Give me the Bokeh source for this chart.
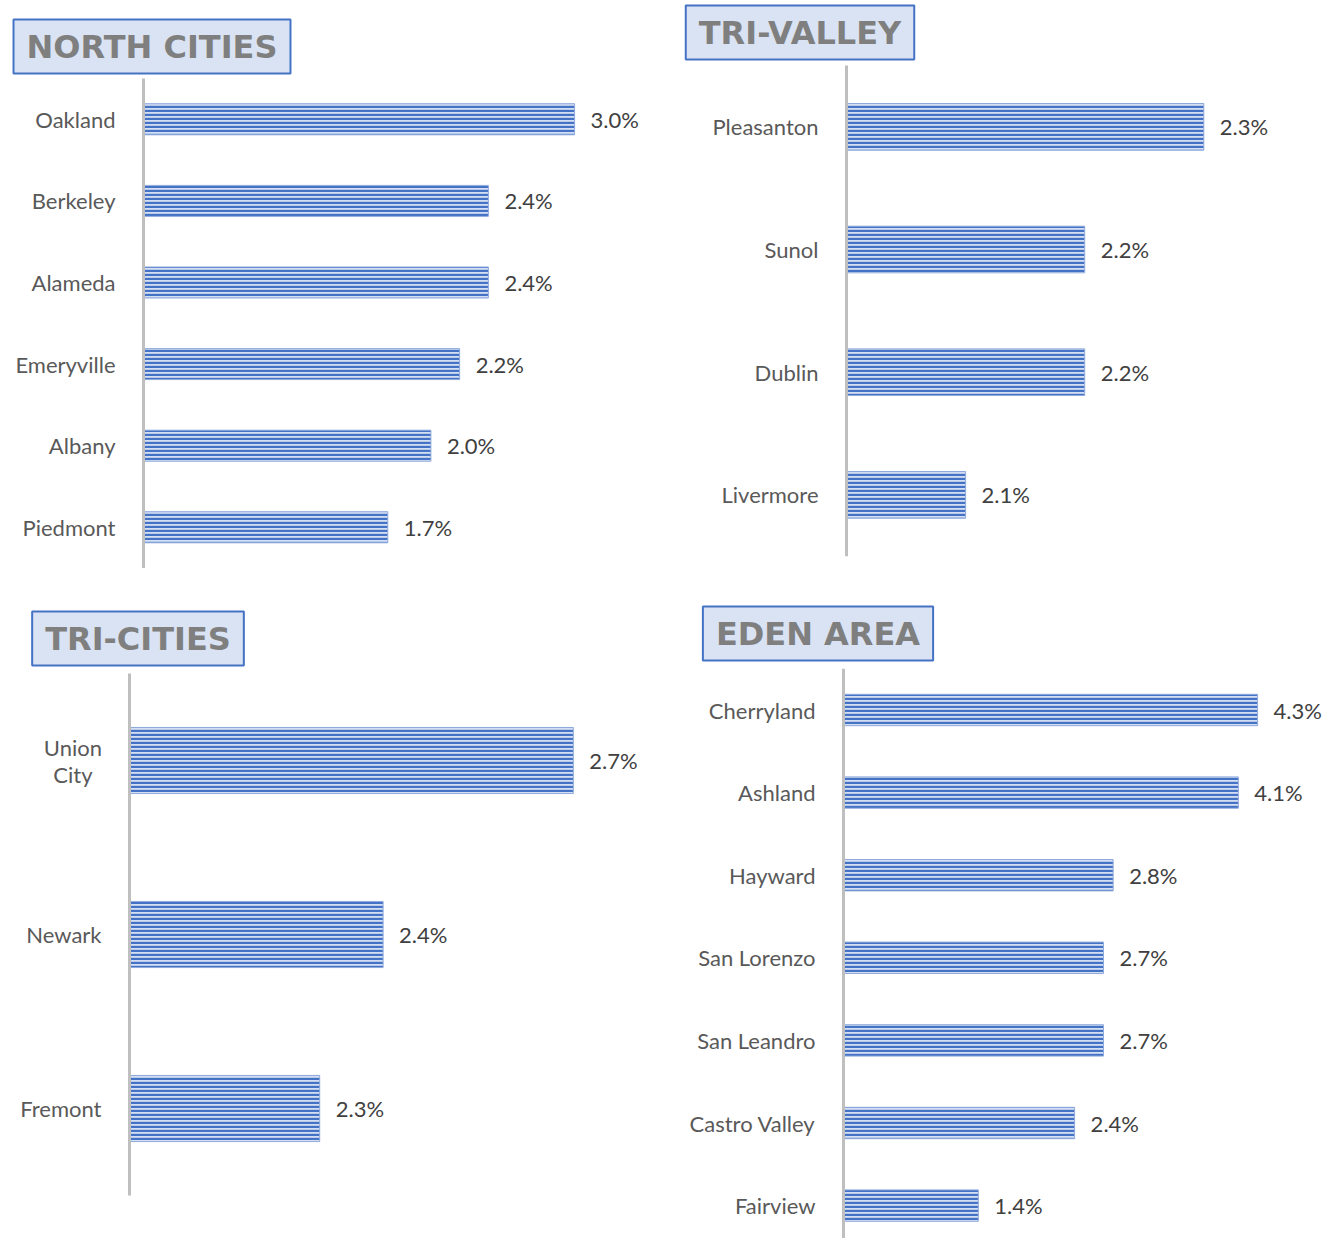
from bokeh.plotting import figure
from bokeh.models import ColumnDataSource, Range1d, Label
from bokeh.layouts import column, row
from bokeh.core.properties import value
from bokeh.embed import file_html
from bokeh.resources import INLINE

# ---------------- data ----------------
north_title = "NORTH CITIES"
north_cities = ["Oakland", "Berkeley", "Alameda", "Emeryville", "Albany", "Piedmont"]
north_values = [3.0, 2.4, 2.4, 2.2, 2.0, 1.7]

trivalley_title = "TRI-VALLEY"
trivalley_cities = ["Pleasanton", "Sunol", "Dublin", "Livermore"]
trivalley_values = [2.3, 2.2, 2.2, 2.1]

tricities_title = "TRI-CITIES"
tricities_cities = ["Union\nCity", "Newark", "Fremont"]
tricities_values = [2.7, 2.4, 2.3]

eden_title = "EDEN AREA"
eden_cities = ["Cherryland", "Ashland", "Hayward", "San Lorenzo", "San Leandro",
               "Castro Valley", "Fairview"]
eden_values = [4.3, 4.1, 2.8, 2.7, 2.7, 2.4, 1.4]

# axis baselines (value where each panel's bars start)
north_base = 0.0
trivalley_base = 2.0
tricities_base = 2.0
eden_base = 0.0

# ---------------- styling ----------------
FONT = "Lato"
FONT_PX = 22
TITLE_FONT = "DejaVu Sans"
BAR_BG = "#D5DFF3"
BAR_HATCH = "#4472C4"
BAR_LINE = "#8FAADC"
AXIS_COLOR = "#BFBFBF"
LABEL_COLOR = "#595959"
VALUE_COLOR = "#404040"
TITLE_COLOR = "#7F7F7F"
TITLE_BG = "#DAE3F3"
TITLE_BORDER = "#4472C4"
LABEL_GAP = 28


def panel(title, cats, vals, base, width, height, base_px, px_per_unit,
          top_px, px_per_cat, title_cx, title_cy, line_to_bottom=False):
    """Layout: base_px = pixel x of the axis line inside the canvas,
    top_px = pixel y of the top of the first category band."""
    n = len(cats)
    x0 = base - base_px / px_per_unit
    x1 = base + (width - base_px) / px_per_unit
    y_top = -0.5 - top_px / px_per_cat
    y_bot = -0.5 + (height - top_px) / px_per_cat

    # multi-line labels: lines centred on each other, block right-aligned
    aligns, offsets = [], []
    for c in cats:
        if "\n" in c:
            half = max(len(s) for s in c.split("\n")) * 0.52 * FONT_PX / 2
            aligns.append("center")
            offsets.append(-LABEL_GAP - half)
        else:
            aligns.append("right")
            offsets.append(-LABEL_GAP)

    src = ColumnDataSource(dict(
        y=list(range(n)),
        value=vals,
        base=[base] * n,
        cat=cats,
        label=[f"{v:.1f}%" for v in vals],
        align=aligns,
        xoff=offsets,
    ))
    p = figure(width=width, height=height, output_backend="svg",
               toolbar_location=None, x_axis_location=None, y_axis_location=None,
               x_range=Range1d(x0, x1), y_range=Range1d(y_bot, y_top),
               min_border=0, min_border_left=0, min_border_right=0,
               min_border_top=0, min_border_bottom=0)
    p.outline_line_color = None
    p.xgrid.visible = False
    p.ygrid.visible = False
    p.background_fill_color = "white"
    p.border_fill_color = "white"

    p.hbar(y="y", left="base", right="value", height=0.38, source=src,
           fill_color=BAR_BG, hatch_pattern="-", hatch_color=BAR_HATCH,
           hatch_weight=2.4, hatch_scale=4, line_color=BAR_LINE, line_width=1)

    # axis line
    y_end = y_bot if line_to_bottom else n - 0.5
    p.segment(x0=[base], y0=[-0.5], x1=[base], y1=[y_end],
              line_color=AXIS_COLOR, line_width=3)

    # category labels
    p.text(x="base", y="y", text="cat", source=src, x_offset="xoff",
           text_align="align", text_baseline="middle",
           text_font=value(FONT), text_font_size=f"{FONT_PX}px",
           text_color=LABEL_COLOR, text_line_height=1.0)

    # value labels
    p.text(x="value", y="y", text="label", source=src, x_offset=16,
           text_align="left", text_baseline="middle",
           text_font=value(FONT), text_font_size=f"{FONT_PX}px",
           text_color=VALUE_COLOR)

    # title box
    tx = base + (title_cx - base_px) / px_per_unit
    ty = -0.5 - (top_px - title_cy) / px_per_cat
    lab = Label(x=tx, y=ty, text=title, anchor="center",
                text_font=TITLE_FONT, text_font_style="bold",
                text_font_size="32px", text_color=TITLE_COLOR,
                background_fill_color=TITLE_BG, border_line_color=TITLE_BORDER,
                border_line_width=2, padding=dict(x=13, y=8))
    p.add_layout(lab)
    return p


pa = panel(north_title, north_cities, north_values, north_base,
           668, 596, 143, 143.7, 78, 81.6, 151.5, 46)
pb = panel(trivalley_title, trivalley_cities, trivalley_values, trivalley_base,
           672, 596, 178, 1191, 65, 122.67, 131.5, 32)
pc = panel(tricities_title, tricities_cities, tricities_values, tricities_base,
           668, 642, 129, 634, 77, 174, 137.5, 42)
pd = panel(eden_title, eden_cities, eden_values, eden_base,
           672, 642, 175, 96.3, 72.2, 82.6, 149.5, 37, line_to_bottom=True)

layout = column(row(pa, pb), row(pc, pd))

open("out.html", "w").write(file_html(layout, INLINE))
